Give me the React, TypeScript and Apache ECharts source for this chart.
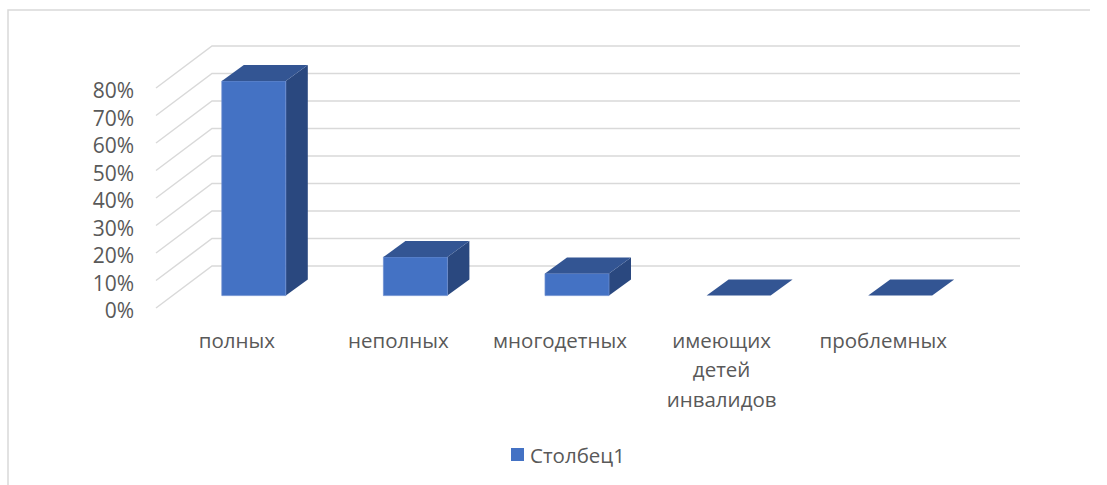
import React, { useEffect, useRef } from "react";
import * as echarts from "echarts";

const categories = ["полных", "неполных", "многодетных", "имеющих\nдетей\nинвалидов", "проблемных"];
const seriesName = "Столбец1";
const seriesValues = [78, 14, 8, 0, 0];
const tickValues = [0, 10, 20, 30, 40, 50, 60, 70, 80];

const FONT = "'Open Sans', sans-serif";
const TEXT = "#595959";
const GRID = "#D9D9D9";
const FRONT = "#4472C4";
const TOP = "#335593";
const SIDE = "#2A487F";
// oblique projection of the 3D chart
const WALL_DX = 56;
const WALL_DY = -42;
const BAR_OFFSET_DX = 17;
const BAR_OFFSET_DY = -12.4;
const BAR_DEPTH_DX = 22;
const BAR_DEPTH_DY = -16;

export default function App() {
  const ref = useRef<HTMLDivElement>(null);
  useEffect(() => {
    const chart = echarts.init(ref.current!, undefined, { renderer: "svg" });
    chart.setOption({
      animation: false,
      backgroundColor: "#fff",
      grid: { left: 156, right: 143, top: 88, bottom: 177 },
      legend: {
        data: [seriesName],
        left: 506,
        top: 439,
        itemWidth: 13,
        itemHeight: 13,
        itemGap: 6,
        icon: "rect",
        textStyle: { fontFamily: FONT, fontSize: 20.5, color: TEXT, padding: [0, 0, 0, 1] },
      },
      xAxis: {
        type: "category",
        data: categories,
        axisLine: { show: false },
        axisTick: { show: false },
        axisLabel: { fontFamily: FONT, fontSize: 20.5, color: TEXT, lineHeight: 29.5, margin: 17, interval: 0 },
      },
      yAxis: {
        type: "value",
        min: 0,
        max: 80,
        interval: 10,
        axisLine: { show: false },
        axisTick: { show: false },
        splitLine: { show: false },
        axisLabel: {
          margin: 22,
          formatter: "{t|{value}%}",
          rich: { t: { fontFamily: FONT, fontSize: 21, color: TEXT, padding: [4, 0, 0, 0] } },
        },
      },
      graphic: [
        {
          type: "polyline",
          silent: true,
          shape: { points: [[8, 485], [8, 10], [1090, 10]] },
          style: { stroke: GRID, lineWidth: 1.5, fill: "none" },
        },
      ],
      series: [
        {
          type: "custom",
          name: "walls",
          silent: true,
          z: 1,
          data: tickValues.map((v) => [0, v]),
          renderItem: (_p: any, api: any) => {
            const front = api.coord([0, api.value(1)]);
            const left = front[0] - api.size([1, 0])[0] / 2;
            const right = left + api.size([1, 0])[0] * categories.length;
            return {
              type: "polyline",
              shape: {
                points: [
                  [left, front[1]],
                  [left + WALL_DX, front[1] + WALL_DY],
                  [right + WALL_DX, front[1] + WALL_DY],
                ],
              },
              style: { stroke: GRID, lineWidth: 1.5, fill: "none" },
            };
          },
        },
        {
          type: "custom",
          name: seriesName,
          z: 2,
          itemStyle: { color: FRONT },
          data: seriesValues.map((v, i) => [i, v]),
          renderItem: (_p: any, api: any) => {
            const i = api.value(0);
            const base = api.coord([i, 0]);
            const head = api.coord([i, api.value(1)]);
            const w = 64;
            const x0 = base[0] + BAR_OFFSET_DX - w / 2;
            const x1 = x0 + w;
            const yb = base[1] + BAR_OFFSET_DY;
            const yt = head[1] + BAR_OFFSET_DY;
            const dx = BAR_DEPTH_DX;
            const dy = BAR_DEPTH_DY;
            const children: any[] = [];
            if (yb - yt > 0.5) {
              children.push({
                type: "polygon",
                shape: { points: [[x1, yt], [x1 + dx, yt + dy], [x1 + dx, yb + dy], [x1, yb]] },
                style: { fill: SIDE },
              });
              children.push({
                type: "rect",
                shape: { x: x0, y: yt, width: w, height: yb - yt },
                style: { fill: FRONT, stroke: "#6C8ED0", lineWidth: 0.75 },
              });
            }
            children.push({
              type: "polygon",
              shape: { points: [[x0, yt], [x0 + dx, yt + dy], [x1 + dx, yt + dy], [x1, yt]] },
              style: { fill: TOP },
            });
            return { type: "group", children };
          },
        },
      ],
    });
    return () => chart.dispose();
  }, []);
  return <div ref={ref} style={{ position: "absolute", left: 0, top: 0, width: 1107, height: 485 }} />;
}
